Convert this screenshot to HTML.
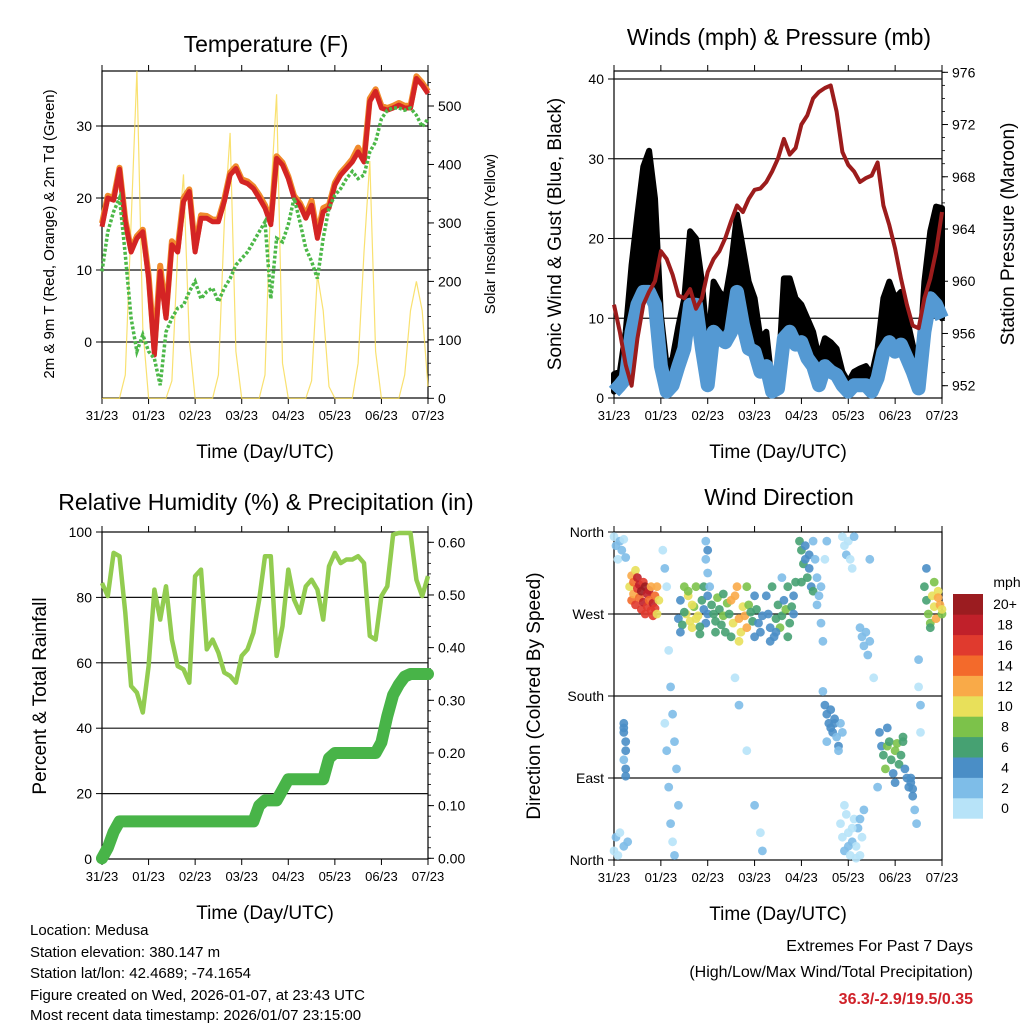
<!DOCTYPE html>
<html><head><meta charset="utf-8"><style>
html,body{margin:0;padding:0;background:#fff;}
svg{display:block;font-family:"Liberation Sans",sans-serif;}
</style></head><body>
<svg id="c" width="1024" height="1024" viewBox="0 0 1024 1024" xmlns="http://www.w3.org/2000/svg">
<rect width="1024" height="1024" fill="#fff"/>
<g id="g"></g>
<text x="30" y="935" font-size="15">Location: Medusa</text>
<text x="30" y="957" font-size="15">Station elevation: 380.147 m</text>
<text x="30" y="978" font-size="15">Station lat/lon: 42.4689; -74.1654</text>
<text x="30" y="1000" font-size="15">Figure created on Wed, 2026-01-07, at 23:43 UTC</text>
<text x="30" y="1020" font-size="15">Most recent data timestamp: 2026/01/07 23:15:00</text>
<text x="973" y="951" font-size="16" text-anchor="end">Extremes For Past 7 Days</text>
<text x="973" y="977" font-size="16" text-anchor="end">(High/Low/Max Wind/Total Precipitation)</text>
<text x="973" y="1004" font-size="16" font-weight="bold" fill="#d0222a" text-anchor="end">36.3/-2.9/19.5/0.35</text>
</svg>
<script>
// ---- data (3-hourly, t = 0..168 h) ----
const days = ["31/23","01/23","02/23","03/23","04/23","05/23","06/23","07/23"];
const tempRed = [16,20,19.7,24,16.7,12.5,14.4,15.3,8.8,-1.8,9.8,3.3,13.5,12.5,19.5,20.9,12.5,17.2,17.2,16.7,16.7,19.5,23.2,24.1,22.3,22,21.3,20,18.6,16.3,25.5,24.6,22.7,20,19,17.2,19,14.4,18.1,18.6,21.8,23.2,24.1,25,26.4,25,33.4,34.8,32.5,32.2,32.5,32.9,32.5,32.5,36.6,35.7,34.5];
const tempOrange = [16.5,20.3,20,24.2,17,12.8,14.7,15.6,9.3,-1,10.6,3.8,14,13,20,21.2,13,17.6,17.5,17,17,19.8,23.5,24.4,22.6,22.3,21.6,20.4,19,16.8,25.8,24.9,23,20.3,19.3,17.6,19.6,14.9,18.6,19,22.1,23.5,24.4,25.4,27,25.4,33.8,35.1,32.8,32.5,32.8,33.2,32.8,32.8,36.9,36,34.8];
const dewGreen = [9.8,15.3,18.1,20,12.1,3.3,-1.3,1,-1.3,-2.3,-6,1.4,3.3,4.7,5.1,7,8.4,6,7,7.5,5.6,7.5,8.8,10.7,11.6,12.5,13.9,15.3,16.7,6,14.4,13.9,16.3,20,16.7,13,11.2,8.8,14.4,18.6,20.4,21.3,22.7,23.7,22.7,23.2,26.4,27.8,31,32.2,32.5,32.5,32.2,32.5,31.5,29.9,31];
const solar = [0,0,0,0,40,300,560,120,0,0,0,0,30,250,383,100,0,0,0,0,40,300,454,80,0,0,0,0,40,350,520,60,0,0,0,0,30,211,150,20,0,0,0,0,60,250,406,80,0,0,0,0,40,150,200,150,20];
const windSust = [0.8,1.6,2.5,8.3,11.7,13.3,13.3,11.7,4,0.8,1.6,4,6.2,11.7,11.7,6.2,1.6,8.3,7.5,7,8.3,13.3,9.2,6.2,5.8,3.3,4,0.8,1.2,7.5,8.3,6.7,7,5,4,1.6,4,3.3,2.9,1.6,0.8,1.6,1.6,1.6,0.8,2.5,5.8,7,5.8,6.7,5,3.3,1.2,8.3,12.5,11.7,10];
const windGust = [3,3.3,8.3,16.7,23,29,31,25,10.4,4,5,9,12.5,20.9,20,14.6,6.2,14.6,13.3,12.5,16.7,23,18.8,14.6,12.5,7.5,8.3,1.6,2,15,15,12.5,11.7,10,8.3,5,7.5,7,6.2,3.3,2,3.3,3.7,4,2.9,6.2,12.5,14.6,12.5,13.3,10,6.7,3.3,14.6,20.9,24,23.8];
const pressure = [958.2,956.1,953.6,952,955.6,958.2,959.2,960,962.3,961.7,960.5,958.9,958.7,959.4,957.9,958.7,960.7,961.7,962.3,963.3,964.6,965.8,965.3,966.3,967,967.1,967.6,968.4,969.4,970.9,969.7,970.2,972,972.7,974,974.5,974.8,975,973,969.9,968.9,968.4,967.6,967.9,968.1,969.1,965.8,964.3,962.5,960.2,958.2,956.6,956.4,958.7,960.2,962.3,965.3];
const rh = [84.4,80.4,93.6,92.6,75.3,52.9,50.9,44.8,59,82.4,73.2,83.4,67.1,59,58,53.9,86.5,88.5,64.1,67.1,63.1,57,56,53.9,62.1,64.1,69.2,79.3,92.6,92.6,62.1,71.2,88.5,79.3,75.3,83.4,85.4,82.4,73.2,89.5,93.6,90.5,91.6,91.6,92.6,90.5,68.2,67.1,80.4,83.4,99.2,99.7,99.7,99.7,85.4,80.4,86.5];
const precip = [0,0.02,0.05,0.07,0.07,0.07,0.07,0.07,0.07,0.07,0.07,0.07,0.07,0.07,0.07,0.07,0.07,0.07,0.07,0.07,0.07,0.07,0.07,0.07,0.07,0.07,0.07,0.10,0.11,0.11,0.11,0.13,0.15,0.15,0.15,0.15,0.15,0.15,0.15,0.19,0.20,0.20,0.20,0.20,0.20,0.20,0.20,0.20,0.22,0.27,0.31,0.33,0.345,0.35,0.35,0.35,0.35];
const dirT = [8,9,9,10,10,11,11,12,12,13,13,14,14,15,15,16,16,17,17,18,18,19,19,20,20,21,21,22,22,23,
0,1,2,3,4,5,6,0,1,2,3,5,7, 5,5,6,6,5,6,6,5,
25,26,27,28,29,30,31,32,33,26,27,28,29,30,31,
33,34,35,36,37,38,39,40,41,42,43,44,45,46,47,48,34,36,38,40,42,44,46,48, 47,47,48,48,49,
50,51,52,53,54,55,56,57,58,59,60,61,62,63,64,65,66,67,68,69,70,71,72,73,74,75,76,52,56,60,64,68,72, 62,64,68,72,75,76,
78,79,80,81,82,83,84,85,86,87,88,89,90,91,92,93,80,83,86,89,92,
95,96,97,98,99,100,101,102,96,98,100, 102,103,104,105,106,107,108,109,104,106,
107,108,109,110,111,112,113,114,115,116,117,109,111,113,115, 117,118,119,120,121,122,123,
116,117,118,119,120,121,122,123,124,125,126,127,128,118,120,122,124,126, 126,127,128,129,130,131, 131,133,135,
136,137,138,139,140,141,142,143,144,145,146,147,148,149,150,151,152,153,140,144,148, 152,153,154,155, 156,156,157,157,
159,160,161,162,163,164,165,166,167,168,160,162,164,166,168];
const dirDeg = [300,312,285,305,292,318,280,298,310,288,302,295,275,305,283,300,270,292,278,296,285,274,300,282,268,290,276,300,270,285,
355,345,330,350,340,352,332,10,25,5,30,15,20, 150,140,130,120,110,100,92,145,
340,320,300,230,190,160,130,100,60,150,120,80,40,20,5,
265,285,258,300,270,290,262,255,278,300,268,248,285,275,260,290,250,272,295,280,265,256,300,270, 350,330,340,315,300,
280,270,262,288,275,258,268,250,282,270,245,260,290,300,265,250,278,268,255,280,272,262,290,275,260,250,268,250,292,285,240,300,245, 200,170,120,60,30,10,
290,270,255,300,245,265,280,255,268,285,275,300,260,278,290,305,240,250,310,245,270,
350,340,325,330,310,320,300,295,305,345,335, 350,330,310,290,260,240,330,350,280,300,
185,170,160,150,145,140,150,135,125,150,140,130,165,155,120, 355,345,335,350,330,320,355,
40,25,10,50,30,5,20,45,15,35,5,25,55,60,15,35,2,45, 255,245,235,250,225,240, 330,200,80,
140,125,115,100,125,130,110,95,120,128,105,115,130,100,90,80,85,78,145,85,135, 90,70,55,40, 220,190,170,140,
300,285,270,260,290,278,265,295,280,270,320,255,305,288,275];
const dirSpd = [10,12,14,15,13,11,16,17,18,15,19,20,16,17,18,21,17,19,16,18,14,17,13,19,17,15,16,12,11,10,
1,2,1,3,2,1,3,1,2,1,1,3,2, 5,4,5,4,3,4,5,5,
1,2,1,1,2,2,3,3,2,1,3,2,2,1,3,
5,4,6,9,10,10,11,10,9,8,10,7,6,5,4,5,4,7,9,11,10,7,6,5, 3,3,4,3,2,
7,6,7,8,6,7,9,7,8,6,7,11,12,13,12,11,10,13,12,9,7,6,5,7,5,4,4,6,7,12,11,8,5, 1,2,1,2,1,2,
4,5,5,6,4,7,6,8,7,5,8,7,6,7,5,6,4,5,3,6,4,
6,6,7,5,6,4,5,6,7,4,5, 2,3,2,3,2,2,1,2,3,2,
3,4,4,5,4,5,4,3,4,3,3,3,5,4,2, 1,1,2,1,1,1,2,
1,1,2,1,1,1,2,1,1,2,1,1,2,1,2,1,1,2, 2,2,3,2,2,3, 2,1,3,
4,5,6,8,8,7,6,5,8,9,7,6,7,5,4,4,5,4,5,4,6, 4,4,3,3, 2,1,2,1,
6,7,8,9,10,11,12,10,13,9,5,7,8,12,11];
const speedColors = ["#b7e3f8","#7ebde8","#4a8ec6","#46a172","#7cc24a","#e8e05a","#f9aa48","#f36a2b","#e03a2e","#c0202a","#9b1c20"];
const speedLabels = ["0","2","4","6","8","10","12","14","16","18","20+"];
const tempTicks=[0,10,20,30], solarTicks=[0,100,200,300,400,500];
const windTicks=[0,10,20,30,40], presTicks=[952,956,960,964,968,972,976];
const rhTicks=[0,20,40,60,80,100], prTicks=[0,0.1,0.2,0.3,0.4,0.5,0.6];
const dirTicks=[0,90,180,270,360], dirLabels=["North","East","South","West","North"];

// ---- helpers ----
const NS="http://www.w3.org/2000/svg";
const G=document.getElementById('g');
function el(tag,attrs,parent){const e=document.createElementNS(NS,tag);for(const k in attrs)e.setAttribute(k,attrs[k]);(parent||G).appendChild(e);return e;}
function txt(s,attrs,parent){const e=el('text',attrs,parent);e.textContent=s;return e;}
const tOf=i=>i*3;
function mkX(x0,x1){return t=>x0+(x1-x0)*t/168;}
function lin(d0,d1,r0,r1){return v=>r0+(v-d0)*(r1-r0)/(d1-d0);}

function frame(p,name){
  const g=el('g',{});
  
  
  el('rect',{x:p.x0,y:p.y0,width:p.x1-p.x0,height:p.y1-p.y0,fill:'none',stroke:'#000','stroke-width':1.2},g);
  const xs=mkX(p.x0,p.x1);
  days.forEach((d,i)=>{const x=xs(i*24);
    el('line',{x1:x,x2:x,y1:p.y1,y2:p.y1+6,stroke:'#000'},g);
    el('line',{x1:x,x2:x,y1:p.y0,y2:p.y0-6,stroke:'#000'},g);
    const tl=txt(d,{x:x,y:p.y1+22,'font-size':13,'text-anchor':'middle'},g);
    
    
  });
  const xt=txt('Time (Day/UTC)',{x:(p.x0+p.x1)/2,y:p.y1+60,'font-size':19,'text-anchor':'middle'},g);
  
  
  return g;
}
function leftTicks(g,p,ticks,sc,fmt,grid,labels){
  ticks.forEach((v,i)=>{const y=sc(v);
    el('line',{x1:p.x0-6,x2:p.x0,y1:y,y2:y,stroke:'#000'},g);
    if(grid&&y>p.y0+2&&y<p.y1-2) el('line',{x1:p.x0,x2:p.x1,y1:y,y2:y,stroke:'#111','stroke-width':1.2},g);
    const l=txt(labels?labels[i]:fmt(v),{x:p.x0-10,y:y+5,'font-size':14,'text-anchor':'end'},g);
    
    
  });
}
function rightTicks(g,p,ticks,sc,fmt,minorStep,maxV){
  ticks.forEach(v=>{const y=sc(v);
    el('line',{x1:p.x1,x2:p.x1+6,y1:y,y2:y,stroke:'#000'},g);
    const l=txt(fmt(v),{x:p.x1+10,y:y+5,'font-size':14},g);
    
    
  });
  if(minorStep){for(let v=ticks[0];v<=maxV+1e-9;v+=minorStep){const y=sc(v);if(y<p.y0||y>p.y1)continue;el('line',{x1:p.x1,x2:p.x1+3,y1:y,y2:y,stroke:'#000','stroke-width':0.8},g);}}
}
function vtitle(s,x,y,size,name){const e=txt(s,{x:x,y:y,'font-size':size,'text-anchor':'middle',transform:`rotate(-90 ${x} ${y})`});
  
  }
function title(s,x,y,name){const e=txt(s,{x:x,y:y,'font-size':23,'text-anchor':'middle'});
  
  }
function pathOf(arr,xs,ys){return arr.map((v,i)=>(i?'L':'M')+xs(tOf(i)).toFixed(1)+','+ys(v).toFixed(1)).join('');}

// ---- Panel 1: Temperature ----
(function(){
  const p={x0:102,x1:428,y0:71,y1:398};
  const xs=mkX(p.x0,p.x1), yT=lin(0,30,342,126), yS=lin(0,500,398.3,106);
  const g=frame(p,'temperature');
  leftTicks(g,p,tempTicks,yT,v=>v,true);
  rightTicks(g,p,solarTicks,yS,v=>v,20,540);
  const s=el('path',{d:pathOf(solar,xs,yS),fill:'none',stroke:'#f7d94c','stroke-width':1.2,opacity:0.8});
  
  
  const o=el('path',{d:pathOf(tempOrange,xs,yT),fill:'none',stroke:'#f08a2c','stroke-width':6,'stroke-linejoin':'round'});
  
  
  const r=el('path',{d:pathOf(tempRed,xs,yT),fill:'none',stroke:'#d42424','stroke-width':5,'stroke-linejoin':'round'});
  
  
  const d=el('path',{d:pathOf(dewGreen,xs,yT),fill:'none',stroke:'#4cb848','stroke-width':3.5,'stroke-dasharray':'3 2'});
  
  
  title('Temperature (F)',266,52,'temperature-title');
  vtitle('2m & 9m T (Red, Orange) & 2m Td (Green)',54,234,15,'temperature-y-title');
  vtitle('Solar Insolation (Yellow)',495,234,15,'solar-y-title');
})();

// ---- Panel 2: Winds & Pressure ----
(function(){
  const p={x0:614,x1:942,y0:71,y1:398};
  const xs=mkX(p.x0,p.x1), yW=lin(0,40,398,79), yP=lin(952,976,385.7,72.3);
  const g=frame(p,'winds');
  leftTicks(g,p,windTicks,yW,v=>v,true);
  rightTicks(g,p,presTicks,yP,v=>v,1,976);
  let dpoly=windGust.map((v,i)=>(i?'L':'M')+xs(tOf(i)).toFixed(1)+','+yW(v).toFixed(1)).join('');
  for(let i=windSust.length-1;i>=0;i--) dpoly+='L'+xs(tOf(i)).toFixed(1)+','+yW(windSust[i]).toFixed(1);
  const gb=el('path',{d:dpoly+'Z',fill:'#000',stroke:'#000','stroke-width':6,'stroke-linejoin':'round'});
  
  
  const b=el('path',{d:pathOf(windSust,xs,yW),fill:'none',stroke:'#5499d3','stroke-width':14,'stroke-linejoin':'round'});
  
  
  const pr=el('path',{d:pathOf(pressure,xs,yP),fill:'none',stroke:'#9c1c1c','stroke-width':4,'stroke-linejoin':'round'});
  
  
  title('Winds (mph) & Pressure (mb)',779,45,'winds-title');
  vtitle('Sonic Wind & Gust (Blue, Black)',561,234,19,'wind-y-title');
  vtitle('Station Pressure (Maroon)',1014,234,19,'pressure-y-title');
})();

// ---- Panel 3: RH & Precip ----
(function(){
  const p={x0:102,x1:428,y0:532,y1:859};
  const xs=mkX(p.x0,p.x1), yR=lin(0,100,859,532), yPr=lin(0,0.6,858.3,542.3);
  const g=frame(p,'humidity');
  leftTicks(g,p,rhTicks,yR,v=>v,true);
  rightTicks(g,p,prTicks,yPr,v=>v.toFixed(2),0.02,0.62);
  const rp=el('path',{d:pathOf(precip,xs,yPr),fill:'none',stroke:'#48b448','stroke-width':12,'stroke-linejoin':'round','stroke-linecap':'round'});
  
  
  const rl=el('path',{d:pathOf(rh,xs,yR),fill:'none',stroke:'#92cc50','stroke-width':4.5,'stroke-linejoin':'round'});
  
  
  title('Relative Humidity (%) & Precipitation (in)',266,510,'humidity-title');
  vtitle('Percent & Total Rainfall',46,696,19,'humidity-y-title');
})();

// ---- Panel 4: Wind Direction ----
(function(){
  const p={x0:614,x1:942,y0:532,y1:860};
  const xs=mkX(p.x0,p.x1), yD=lin(0,360,860,532);
  const g=frame(p,'wind-direction');
  leftTicks(g,p,dirTicks,yD,null,true,dirLabels);
  dirT.forEach((t,i)=>{
    const ci=Math.min(10,Math.floor(dirSpd[i]/2));
    const c=el('circle',{cx:xs(t).toFixed(1),cy:yD(dirDeg[i]).toFixed(1),r:4.4,fill:speedColors[ci],opacity:0.9});
    
    
  });
  title('Wind Direction',779,505,'wind-direction-title');
  vtitle('Direction (Colored By Speed)',540,696,19,'direction-y-title');
  const cb=el('g',{});
  
  
  const h=20.4;
  for(let k=0;k<11;k++){const y=594+(10-k)*h;
    el('rect',{x:953,y:y,width:30,height:h+0.3,fill:speedColors[k]},cb);
    txt(speedLabels[k],{x:1005,y:y+h/2+5,'font-size':14,'text-anchor':'middle'},cb);}
  txt('mph',{x:1007,y:587,'font-size':14,'text-anchor':'middle'},cb);
})();
</script>
</body></html>
